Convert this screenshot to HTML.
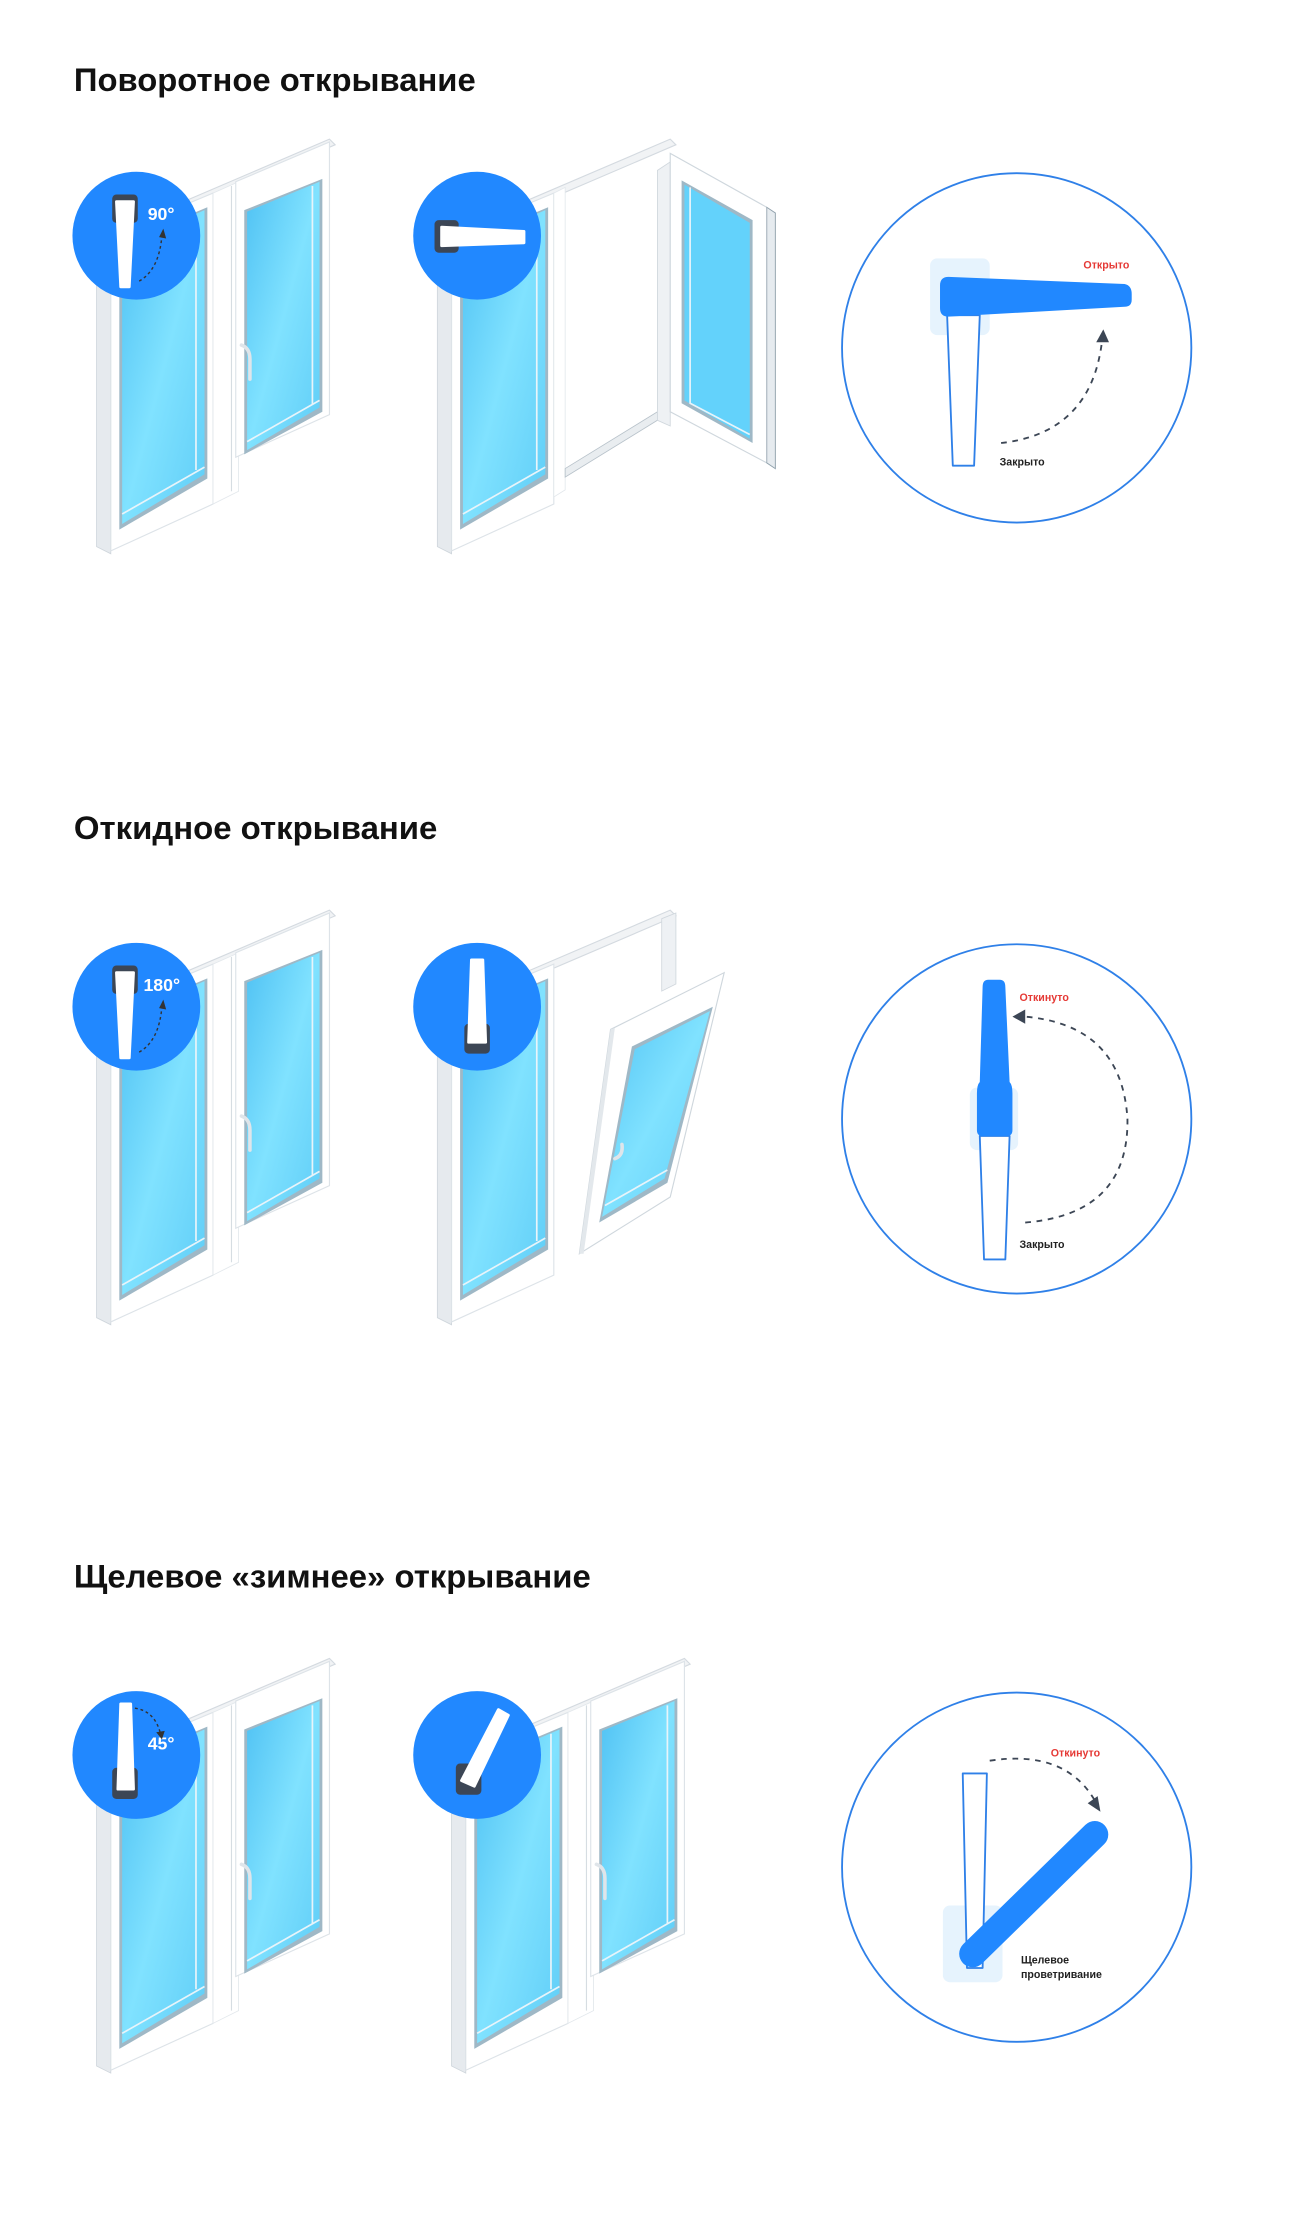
<!DOCTYPE html>
<html><head><meta charset="utf-8"><style>html,body{margin:0;padding:0;background:#fff;width:1300px;height:2225px;overflow:hidden}svg{display:block}</style></head>
<body>
<svg width="1300" height="2225" viewBox="0 0 915.5 1567" xmlns="http://www.w3.org/2000/svg" font-family="'Liberation Sans','DejaVu Sans',sans-serif">
<defs>
<linearGradient id="gl" x1="0" y1="0" x2="1" y2="1">
<stop offset="0" stop-color="#4fc1f3"/><stop offset="0.5" stop-color="#80e2ff"/><stop offset="1" stop-color="#5fcdf7"/>
</linearGradient>
<g id="leftpane">
<polygon points="68,172 78,167 78,390 68,385" fill="#e6eaee" stroke="#cfd6dc" stroke-width="0.6"/>
<polygon points="78,166 150,136 150,355 78,388" fill="#fff" stroke="#dde3e8" stroke-width="0.8"/>
<polygon points="84,172 146,146 146,337 84,373" fill="#9fb8c6"/>
<polygon points="86,173 144,148 144,334 86,369" fill="url(#gl)"/>
<polyline points="86,362 144,329" stroke="#e8f4fa" stroke-width="1.2" fill="none"/>
<polyline points="138,151 138,331" stroke="#e8f4fa" stroke-width="1.2" fill="none"/>
</g>
<g id="closedwin">
<polygon points="78,164 232,98 236,102 82,168" fill="#f1f3f5" stroke="#d4dae0" stroke-width="0.8"/>
<use href="#leftpane"/>
<polygon points="150,136 168,128 168,346 150,355" fill="#fff" stroke="#e3e8ec" stroke-width="0.6"/>
<line x1="163" y1="131" x2="163" y2="346" stroke="#d6dde2" stroke-width="0.8"/>
<polygon points="166,128 232,100 232,292 166,322" fill="#fff" stroke="#dde3e8" stroke-width="0.8"/>
<polygon points="172,148 227,126 227,290 172,320" fill="#9fb8c6"/>
<polygon points="174,149 225,128 225,287 174,317" fill="url(#gl)"/>
<polyline points="174,311 225,282" stroke="#e8f4fa" stroke-width="1.2" fill="none"/>
<polyline points="220,131 220,285" stroke="#e8f4fa" stroke-width="1.2" fill="none"/>
<path d="M170,243 q6,2 6,10 l0,14" stroke="#dfe5ea" stroke-width="2.5" fill="none" stroke-linecap="round"/>
</g>
<g id="handleUp">
<rect x="-9" y="-29" width="18" height="20" rx="3" fill="#3c4655"/>
<polygon points="-6,-24 6,-24 3,36 -3,36" fill="#fff" stroke="#fff" stroke-width="2" stroke-linejoin="round"/>
</g>
</defs>

<text x="52" y="64" font-size="23" font-weight="bold" fill="#111" textLength="283" lengthAdjust="spacingAndGlyphs">Поворотное открывание</text>
<text x="52" y="591" font-size="23" font-weight="bold" fill="#111" textLength="256" lengthAdjust="spacingAndGlyphs">Откидное открывание</text>
<text x="52" y="1118" font-size="23" font-weight="bold" fill="#111" textLength="364" lengthAdjust="spacingAndGlyphs">Щелевое «зимнее» открывание</text>

<!-- SECTION 1 -->
<use href="#closedwin"/>
<circle cx="96" cy="166" r="45" fill="#2188ff"/>
<use href="#handleUp" x="88" y="166"/>
<text x="104" y="155" font-size="12.5" font-weight="bold" fill="#fff">90°</text>
<path d="M98,198 q14,-8 16,-32" stroke="#333" stroke-width="1" stroke-dasharray="2,2" fill="none"/>
<polygon points="112,167 115,161 117,168" fill="#333"/>

<g transform="translate(240,0)">
<polygon points="78,164 232,98 236,102 82,168" fill="#f1f3f5" stroke="#d4dae0" stroke-width="0.8"/>
<use href="#leftpane"/>
<polygon points="150,136 158,132 158,345 150,350" fill="#fff" stroke="#e3e8ec" stroke-width="0.6"/>
<polygon points="158,330 223,290 223,296 158,336" fill="#e9edf0" stroke="#b8c2ca" stroke-width="0.6"/>
<polygon points="223,120 232,114 232,300 223,296" fill="#eef1f4" stroke="#d0d7dd" stroke-width="0.6"/>
<polygon points="232,108 300,146 306,150 306,330 300,326 232,290" fill="#fff" stroke="#cfd7dd" stroke-width="0.8"/>
<polygon points="300,146 306,150 306,330 300,326" fill="#e6ebef" stroke="#8fa0ab" stroke-width="0.6"/>
<polygon points="240,127 290,155 290,312 240,284" fill="#9fb8c6"/>
<polygon points="242,130 288,157 288,309 242,282" fill="#63d2fb"/>
<polyline points="246,132 246,284 288,306" stroke="#e8f4fa" stroke-width="1.2" fill="none"/>
</g>
<circle cx="336" cy="166" r="45" fill="#2188ff"/>
<rect x="306" y="155" width="17" height="23" rx="3" fill="#3c4655"/>
<polygon points="311,160 369,163 369,171 311,173" fill="#fff" stroke="#fff" stroke-width="2" stroke-linejoin="round"/>

<circle cx="716" cy="245" r="123" fill="none" stroke="#2f80e8" stroke-width="1.3"/>
<rect x="655" y="182" width="42" height="54" rx="5" fill="#e6f3fd"/>
<polygon points="667,222 690,222 686,328 671,328" fill="#fff" stroke="#2f80e8" stroke-width="1.3" stroke-linejoin="round"/>
<path d="M668,195 L792,200 Q797,201 797,207 L797,211 Q797,216 792,216 L668,223 Q662,223 662,217 L662,201 Q662,195 668,195 Z" fill="#2188ff"/>
<path d="M705,312 Q768,305 776,241" stroke="#3c4655" stroke-width="1.3" stroke-dasharray="4,4" fill="none"/>
<polygon points="772,241 777,232 781,241" fill="#3c4655"/>
<text x="763" y="189" font-size="7.5" font-weight="bold" fill="#e53935">Открыто</text>
<text x="704" y="328" font-size="7.5" font-weight="bold" fill="#222">Закрыто</text>

<!-- SECTION 2 -->
<g transform="translate(0,543)">
<use href="#closedwin"/>
<circle cx="96" cy="166" r="45" fill="#2188ff"/>
<use href="#handleUp" x="88" y="166"/>
<text x="101" y="155" font-size="12.5" font-weight="bold" fill="#fff">180°</text>
<path d="M98,198 q14,-8 16,-32" stroke="#333" stroke-width="1" stroke-dasharray="2,2" fill="none"/>
<polygon points="112,167 115,161 117,168" fill="#333"/>

<g transform="translate(240,0)">
<polygon points="78,164 232,98 236,102 82,168" fill="#f1f3f5" stroke="#d4dae0" stroke-width="0.8"/>
<use href="#leftpane"/>
<polygon points="226,104 236,100 236,150 226,155" fill="#eef1f4" stroke="#d0d7dd" stroke-width="0.6"/>
<polygon points="190,182 270,142 232,300 168,340" fill="#fff" stroke="#cfd7dd" stroke-width="0.8"/>
<polygon points="168,340 190,182 193,181 171,340" fill="#e3e8ec"/>
<polygon points="205,194 262,166 230,290 182,318" fill="#9fb8c6"/>
<polygon points="207,196 260,169 228,287 184,314" fill="url(#gl)"/>
<polyline points="186,306 230,281" stroke="#e8f4fa" stroke-width="1.2" fill="none"/>
<path d="M193,273 q6,-2 5,-10" stroke="#dfe5ea" stroke-width="2.5" fill="none" stroke-linecap="round"/>
</g>
<circle cx="336" cy="166" r="45" fill="#2188ff"/>
<rect x="327" y="178" width="18" height="21" rx="3" fill="#3c4655"/>
<polygon points="332,133 340,133 342,191 330,191" fill="#fff" stroke="#fff" stroke-width="2" stroke-linejoin="round"/>
</g>

<circle cx="716" cy="788" r="123" fill="none" stroke="#2f80e8" stroke-width="1.3"/>
<rect x="683" y="766" width="34" height="44" rx="5" fill="#e6f3fd"/>
<polygon points="690,800 711,800 708,887 693,887" fill="#fff" stroke="#2f80e8" stroke-width="1.3" stroke-linejoin="round"/>
<path d="M696,690 L704,690 Q708,690 708,695 L711,762 Q713,764 713,770 L713,796 Q713,800 709,800 L692,800 Q688,800 688,796 L688,770 Q688,764 690,762 L692,695 Q692,690 696,690 Z" fill="#2188ff"/>
<path d="M722,861 Q795,855 794,788 Q790,722 722,716" stroke="#3c4655" stroke-width="1.3" stroke-dasharray="4,4" fill="none"/>
<polygon points="722,711 713,716 722,721" fill="#3c4655"/>
<text x="718" y="705" font-size="7.5" font-weight="bold" fill="#e53935">Откинуто</text>
<text x="718" y="879" font-size="7.5" font-weight="bold" fill="#222">Закрыто</text>

<!-- SECTION 3 -->
<g transform="translate(0,1070)">
<use href="#closedwin"/>
<circle cx="96" cy="166" r="45" fill="#2188ff"/>
<rect x="79" y="175" width="18" height="22" rx="3" fill="#3c4655"/>
<polygon points="85,130 92,130 94,190 83,190" fill="#fff" stroke="#fff" stroke-width="2" stroke-linejoin="round"/>
<text x="104" y="162" font-size="12.5" font-weight="bold" fill="#fff">45°</text>
<path d="M95,133 q14,2 18,18" stroke="#333" stroke-width="1" stroke-dasharray="2,2" fill="none"/>
<polygon points="110,150 114,155 116,149" fill="#333"/>
<use href="#closedwin" x="250"/>
<circle cx="336" cy="166" r="45" fill="#2188ff"/>
<rect x="321" y="172" width="18" height="22" rx="3" fill="#3c4655"/>
<polygon points="351,134 358,138 334,188 325,184" fill="#fff" stroke="#fff" stroke-width="2" stroke-linejoin="round"/>
</g>

<circle cx="716" cy="1315" r="123" fill="none" stroke="#2f80e8" stroke-width="1.3"/>
<rect x="664" y="1342" width="42" height="54" rx="5" fill="#e6f3fd"/>
<polygon points="678,1249 695,1249 692,1386 681,1386" fill="#fff" stroke="#2f80e8" stroke-width="1.3" stroke-linejoin="round"/>
<line x1="685" y1="1376" x2="771" y2="1292" stroke="#2188ff" stroke-width="19" stroke-linecap="round"/>
<path d="M697,1240 Q750,1232 771,1268" stroke="#3c4655" stroke-width="1.3" stroke-dasharray="4,4" fill="none"/>
<polygon points="766,1270 775,1276 773,1265" fill="#3c4655"/>
<text x="740" y="1237" font-size="7.5" font-weight="bold" fill="#e53935">Откинуто</text>
<text x="719" y="1383" font-size="7.5" font-weight="bold" fill="#222">Щелевое</text>
<text x="719" y="1393" font-size="7.5" font-weight="bold" fill="#222">проветривание</text>
</svg>
</body></html>
